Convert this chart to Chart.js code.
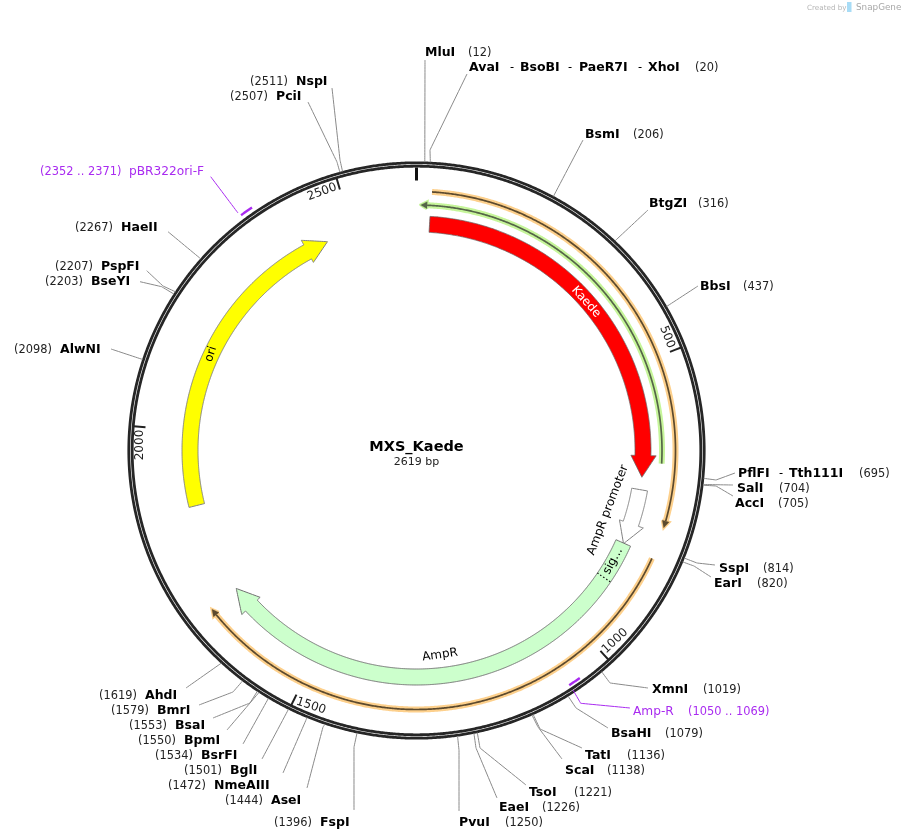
<!DOCTYPE html>
<html><head><meta charset="utf-8">
<style>html,body{margin:0;padding:0;background:#fff}canvas{display:block}</style>
<script src="https://cdn.jsdelivr.net/npm/chart.js@4/dist/chart.umd.min.js"></script>
</head><body><canvas id="c" width="904" height="840"></canvas>
<script>
// ---------- DATA ----------
const plasmidName = 'MXS_Kaede';
const plasmidLength = 2619;
const numberedTicks = [500, 1000, 1500, 2000, 2500];
const originTick = [0];
const siteNames = ['MluI','AvaI - BsoBI - PaeR7I - XhoI','BsmI','BtgZI','BbsI','PflFI - Tth111I','SalI','AccI','SspI','EarI','XmnI','BsaHI','TatI','ScaI','TsoI','EaeI','PvuI','FspI','AseI','NmeAIII','BglI','BsrFI','BpmI','BsaI','BmrI','AhdI','AlwNI','BseYI','PspFI','HaeII','PciI','NspI'];
const sitePositions = [12,20,206,316,437,695,704,705,814,820,1019,1079,1136,1138,1221,1226,1250,1396,1444,1472,1501,1534,1550,1553,1579,1619,2098,2203,2207,2267,2507,2511];
const primerNames = ['Amp-R','pBR322ori-F'];
const primerStarts = [1050,2352];
const primerEnds = [1069,2371];
// block features: start, body end, tip (bp, clockwise)
const kaedeSpan = [24,664,704];
const promoterSpan = [727,792,831];
const ampRSpan = [830,1650,1692];
const sigBoundary = [903];
const oriSpan = [1862,2410,2451];
// thin annotated strands: from, to (arrowhead at "to")
const strandOrange1 = [25,781];
const strandGreen = [677,7];
const strandOrange2 = [834,1689];

// ---------- LAYOUT ----------
const CX = 416.5, CY = 450.5;
const R_RING_OUT = 287.7, R_RING_IN = 284.3, R_BLOCK_IN = 218.5, R_BLOCK_OUT = 234.5, R_HEAD_IN = 214.5, R_HEAD_OUT = 239.7, R_TIP = 227;
const R_STRAND_ORANGE = 259, R_STRAND_GREEN = 245.5;
const GREY = '#8a8a8a', PURPLE = '#a92bf0', INK = '#262626';
// x of each text piece (names, dashes, then number), y centre, and leader bends in page units
const siteLayout = {
 MluI:{x:[425,468],y:52,leader:[[425,60]]},
 AvaI:{x:[469,510,520,568,579,638,648,695],y:67,leader:[[430,150],[467,74]]},
 BsmI:{x:[585,633],y:134,leader:[[583,140]]},
 BtgZI:{x:[649,698],y:203,leader:[[648,210]]},
 BbsI:{x:[700,743],y:286,leader:[[698,286]]},
 PflFI:{x:[738,779,789,859],y:473,leader:[[716,480],[735,473]]},
 SalI:{x:[737,779],y:488,leader:[[733,485]]},
 AccI:{x:[735,778],y:503,leader:[[716,486],[733,496]]},
 SspI:{x:[719,763],y:568,leader:[[697,563],[715,565]]},
 EarI:{x:[714,757],y:583,leader:[[694,566],[711,577]]},
 XmnI:{x:[652,703],y:689,leader:[[610,683],[648,688]]},
 BsaHI:{x:[611,665],y:733,leader:[[576,708],[608,728]]},
 TatI:{x:[585,627],y:755,leader:[[540,729],[582,748]]},
 ScaI:{x:[565,607],y:770,leader:[[538,727],[562,759]]},
 TsoI:{x:[529,574],y:792,leader:[[480,748],[526,785]]},
 EaeI:{x:[499,542],y:807,leader:[[476,748],[497,798]]},
 PvuI:{x:[459,505],y:822,leader:[[459,750],[459,811]]},
 FspI:{x:[320,274],y:822,leader:[[354,747],[354,810]]},
 AseI:{x:[271,225],y:800,leader:[[323,727],[307,788]]},
 NmeAIII:{x:[214,168],y:785,leader:[[306,720],[283,773]]},
 BglI:{x:[230,184],y:770,leader:[[262,759]]},
 BsrFI:{x:[201,155],y:755,leader:[[243,744]]},
 BpmI:{x:[184,138],y:740,leader:[[227,730]]},
 BsaI:{x:[175,129],y:725,leader:[[250,703],[213,718]]},
 BmrI:{x:[157,111],y:710,leader:[[233,692],[199,705]]},
 AhdI:{x:[145,99],y:695,leader:[[186,688]]},
 AlwNI:{x:[60,14],y:349,leader:[[111,349]]},
 BseYI:{x:[91,45],y:281,leader:[[161.7,286.7],[140,281.7]]},
 PspFI:{x:[101,55],y:266,leader:[[163,286],[146.7,270.7]]},
 HaeII:{x:[121,75],y:227,leader:[[168,231.7]]},
 PciI:{x:[276,230],y:96,leader:[[337,162],[308,102]]},
 NspI:{x:[296,250],y:81,leader:[[340,160],[332,88]]}
};
const primerLayout = {
 'Amp-R':{x:[633,688],y:711,r:280,leader:[[573,690],[580.7,703.3],[630,708]]},
 'pBR322ori-F':{x:[129,40],y:171,r:293.5,leader:[[238,213],[210.7,176.7]]}
};
const tickLayout = {500:[667,337,69],1000:[615,641,-43],1500:[311,706,18],2000:[140,445,-90],2500:[322,192,-20]};

// ---------- GEOMETRY HELPERS ----------
const pt = (bp, r) => { const a = bp / plasmidLength * 2 * Math.PI; return {x: CX + r * Math.sin(a), y: CY - r * Math.cos(a)}; };
function arc(from, to, r) {
  const n = Math.max(2, Math.ceil(Math.abs(to - from) / 4)), out = [];
  for (let i = 0; i <= n; i++) out.push(pt(from + (to - from) * i / n, r));
  return out;
}
function arrowBlock([s, b, t]) {
  const pts = [...arc(s, b, R_BLOCK_OUT), pt(b, R_HEAD_OUT), pt(t, R_TIP), pt(b, R_HEAD_IN), ...arc(b, s, R_BLOCK_IN)];
  pts.push(pts[0]);
  return pts;
}
// a vanishingly small tension keeps Chart.js away from its pixel-snapping fast line path
const line = (data, color, width, extra) => Object.assign({type:'scatter', showLine:true, data, borderColor:color, borderWidth:width, pointRadius:0, tension:0.0001, fill:false, borderCapStyle:'butt', borderJoinStyle:'miter'}, extra || {});
const poly = (data, fillColor, stroke, width) => line(data, stroke, width, {fill:'shape', backgroundColor:fillColor});

const paint = [];
// plasmid backbone
const full = [0, plasmidLength];
paint.push(line(arc(full[0], full[1], R_RING_OUT), INK, 2.8));
paint.push(line(arc(full[0], full[1], R_RING_IN), INK, 2.8));
originTick.forEach(b => paint.push(line([pt(b, 270), pt(b, 283)], '#111', 3)));
numberedTicks.forEach(b => paint.push(line([pt(b, 272), pt(b, 284)], '#222', 2)));
// leaders
siteNames.forEach((n, i) => {
  const key = n.split(' - ')[0], l = siteLayout[key].leader.map(p => ({x:p[0], y:p[1]}));
  paint.push(line([pt(sitePositions[i], 288.5), ...l], GREY, 1));
});
primerNames.forEach((n, i) => {
  const L = primerLayout[n];
  paint.push(line(L.leader.map(p => ({x:p[0], y:p[1]})), PURPLE, 1));
  paint.push(line(arc(primerStarts[i], primerEnds[i], L.r), PURPLE, 2.4));
});
// thin strands with halo and small arrowhead
function strand(span, r, halo, core) {
  const [a, b] = span, dir = b > a ? 1 : -1;
  const base = b - dir * 11;
  const tri = [pt(base, r - 3.5), pt(b, r), pt(base, r + 3.5), pt(base, r - 3.5)];
  paint.push(line(arc(a, base, r), halo, 6));
  paint.push(poly(tri, halo, halo, 3));
  paint.push(line(arc(a, base, r), core, 1.7));
  paint.push(poly(tri, core, core, 0.3));
}
strand(strandOrange1, R_STRAND_ORANGE, '#fdd08c', '#5c4a2e');
strand(strandOrange2, R_STRAND_ORANGE, '#fdd08c', '#5c4a2e');
strand(strandGreen, R_STRAND_GREEN, '#c6f59a', '#556548');
// block arrows
paint.push(poly(arrowBlock(kaedeSpan), '#ff0000', '#666', 0.8));
paint.push(poly(arrowBlock(promoterSpan), '#ffffff', '#808080', 1));
paint.push(poly(arrowBlock(ampRSpan), '#ccffcc', '#707070', 1));
paint.push(line([pt(sigBoundary[0], R_BLOCK_IN), pt(sigBoundary[0], R_BLOCK_OUT)], '#111', 1.2, {borderDash:[1.5,2]}));
paint.push(poly(arrowBlock(oriSpan), '#ffff00', '#808080', 1));
paint.reverse(); // Chart.js paints the first dataset last

// ---------- TEXT ----------
const BOLD = 'bold 12.5px "DejaVu Sans"', REG = '11.4px "DejaVu Sans"';
const textPlugin = {
  id:'plasmidText',
  afterDatasetsDraw(chart) {
    const c = chart.ctx, sx = chart.scales.x, sy = chart.scales.y;
    const put = (t, x, y, font, color, align, rot) => {
      c.save();
      c.translate(sx.getPixelForValue(x), sy.getPixelForValue(y + (rot ? 0 : 1)));
      if (rot) c.rotate(rot * Math.PI / 180);
      c.font = font; c.fillStyle = color; c.textAlign = align || 'left'; c.textBaseline = 'middle';
      c.fillText(t, 0, 0); c.restore();
    };
    siteNames.forEach((n, i) => {
      const parts = n.split(' - '), L = siteLayout[parts[0]];
      let k = 0;
      parts.forEach((p, j) => {
        if (j) put('-', L.x[k++], L.y, REG, '#000');
        put(p, L.x[k++], L.y, BOLD, '#000');
      });
      put('(' + sitePositions[i] + ')', L.x[k], L.y, REG, '#222');
    });
    primerNames.forEach((n, i) => {
      const L = primerLayout[n];
      put(n, L.x[0], L.y, '12.2px "DejaVu Sans"', PURPLE);
      put('(' + primerStarts[i] + ' .. ' + primerEnds[i] + ')', L.x[1], L.y, REG, PURPLE);
    });
    numberedTicks.forEach(b => { const T = tickLayout[b]; put(String(b), T[0], T[1], '12px "DejaVu Sans"', '#222', 'center', T[2]); });
    put(plasmidName, 416.5, 446, 'bold 14.5px "DejaVu Sans"', '#000', 'center');
    put(plasmidLength + ' bp', 416.5, 461, '11px "DejaVu Sans"', '#222', 'center');
    put('Kaede', 586, 302, '12px "DejaVu Sans"', '#fff', 'center', 48);
    put('ori', 211, 354, '12px "DejaVu Sans"', '#000', 'center', -72);
    put('AmpR', 440, 655, '12px "DejaVu Sans"', '#000', 'center', -8);
    put('sig...', 613, 561, '12px "DejaVu Sans"', '#000', 'center', -62);
    put('AmpR promoter', 608, 510, '12px "DejaVu Sans"', '#000', 'center', -69);
    put('Created by', 807, 7, '7.2px "DejaVu Sans"', '#b5b5b5');
    put('SnapGene', 856, 7, '8.8px "DejaVu Sans"', '#a8a8a8');
    c.save(); c.fillStyle = '#a8dcf6'; c.fillRect(sx.getPixelForValue(847), sy.getPixelForValue(2), 4.5, 10); c.restore();
  }
};

new Chart(document.getElementById('c'), {
  type:'scatter',
  data:{datasets:paint},
  options:{
    responsive:false, animation:false, devicePixelRatio:1,
    layout:{padding:0},
    plugins:{legend:{display:false}, tooltip:{enabled:false}, title:{display:false}},
    scales:{
      x:{type:'linear', min:0, max:904, display:false},
      y:{type:'linear', min:0, max:840, reverse:true, display:false}
    }
  },
  plugins:[textPlugin]
});
</script></body></html>
